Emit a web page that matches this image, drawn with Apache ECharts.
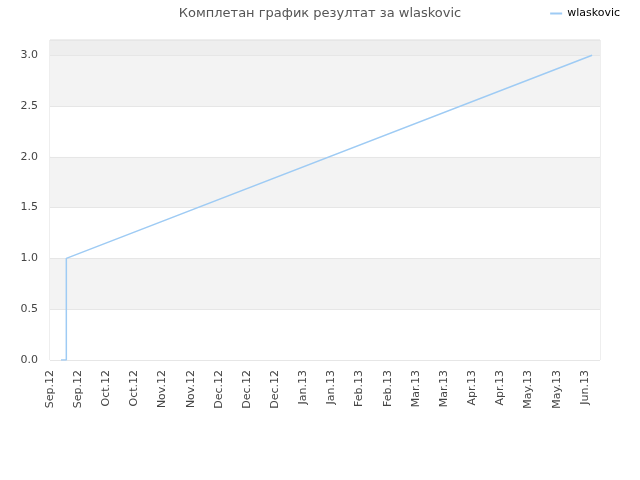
<!DOCTYPE html>
<html>
<head>
<meta charset="utf-8">
<script src="https://cdn.jsdelivr.net/npm/echarts@6/dist/echarts.min.js"></script>
<style>
html,body{margin:0;padding:0;background:#fff;}
#main{width:640px;height:480px;}
</style>
</head>
<body>
<div id="main"></div>
<script>
// ознаке на x оси (по пола месеца)
var monthLabels=['Sep.12','Sep.12','Oct.12','Oct.12','Nov.12','Nov.12','Dec.12','Dec.12','Dec.12','Jan.13',
	'Jan.13','Feb.13','Feb.13','Mar.13','Mar.13','Apr.13','Apr.13','May.13','May.13','Jun.13'];
// положај тачака у јединицама ознака
var pointPos=[0.39,0.58,0.58,19.26];
// резултат
var scores=[0,0,1,3];

var seriesData=[];
for(var i=0;i<scores.length;i++){
	seriesData.push([pointPos[i],scores[i]]);
}

var myChart=echarts.init(document.getElementById('main'));
var option={
	animation:false,
	title:{
		text:'Комплетан график резултат за wlaskovic',
		left:'center',
		top:2,
		textStyle:{color:'#555',fontSize:13,fontWeight:'normal',fontFamily:'DejaVu Sans'}
	},
	legend:{
		right:15,
		top:3,
		itemWidth:12,
		itemHeight:2,
		itemGap:5,
		icon:'rect',
		textStyle:{color:'#000',fontSize:11,fontFamily:'DejaVu Sans'},
		data:['wlaskovic']
	},
	grid:{
		left:50,right:40,top:40,bottom:120,
		show:true,
		borderColor:'#ddd',
		borderWidth:1
	},
	xAxis:{
		type:'value',
		min:0,
		max:19.54,
		interval:1,
		axisLine:{show:false},
		axisTick:{show:false},
		splitLine:{show:false},
		axisLabel:{
			rotate:90,
			margin:10,
			color:'#444',
			fontSize:11,
			fontFamily:'DejaVu Sans',
			showMaxLabel:false,
			formatter:function(v){
				return Number.isInteger(v)?monthLabels[v]:'';
			}
		}
	},
	yAxis:{
		type:'value',
		min:0,
		max:3.15,
		interval:0.5,
		axisLine:{show:false},
		axisTick:{show:false},
		splitLine:{lineStyle:{color:'#e6e6e6'}},
		splitArea:{show:true,areaStyle:{color:['#fff','#f3f3f3','#fff','#f3f3f3','#fff','#f3f3f3','#eeeeee']}},
		axisLabel:{
			margin:12,
			color:'#444',
			fontSize:11,
			fontFamily:'DejaVu Sans',
			formatter:function(v){
				return Math.abs(v*2-Math.round(v*2))<1e-6?v.toFixed(1):'';
			}
		}
	},
	series:[{
		name:'wlaskovic',
		type:'line',
		data:seriesData,
		showSymbol:false,
		lineStyle:{color:'#9ecbf4',width:1.5},
		itemStyle:{color:'#9ecbf4'}
	}]
};
myChart.setOption(option);
</script>
</body>
</html>
